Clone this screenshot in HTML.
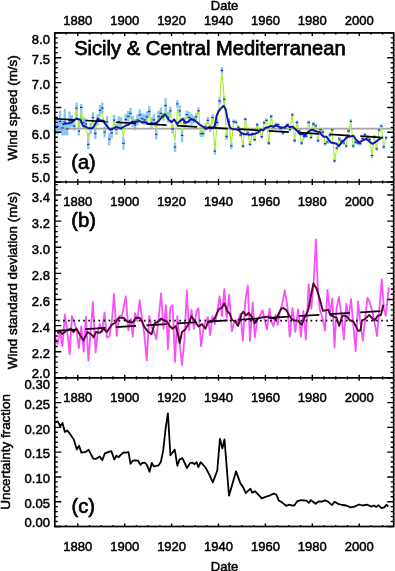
<!DOCTYPE html>
<html><head><meta charset="utf-8"><style>
html,body{margin:0;padding:0;background:#fff;width:395px;height:571px;overflow:hidden;}
svg{display:block;will-change:transform;}
text{font-family:"Liberation Sans", sans-serif;fill:#000;stroke:#000;stroke-width:0.5px;}
</style></head><body>
<svg width="395" height="571" viewBox="0 0 395 571" font-family='"Liberation Sans", sans-serif'>
<rect width="395" height="571" fill="#fff"/>
<path d="M55.42 119.0V134.0M57.77 118.2V134.4M60.11 110.6V132.4M62.45 120.3V135.4M64.80 109.1V135.4M67.15 122.3V135.4M69.49 111.6V129.4M71.84 115.0V127.0M74.18 122.0V130.4M76.53 102.6V118.0M78.87 118.0V135.5M81.22 103.9V124.0M83.56 117.2V128.2M85.91 118.6V129.6M88.25 133.0V149.4M90.59 122.9V133.9M92.94 112.2V123.2M95.28 128.0V139.0M97.63 114.2V125.2M99.98 104.9V115.9M102.32 102.7V113.7M104.67 126.6V137.6M107.01 116.3V127.3M109.36 132.9V145.5M111.70 127.3V138.3M114.05 114.7V125.7M116.39 123.8V134.8M118.74 116.3V127.3M121.08 117.2V128.2M123.43 136.8V149.8M125.77 114.0V125.0M128.12 110.9V121.9M130.46 107.9V118.9M132.81 116.3V127.3M135.15 119.3V130.3M137.50 114.2V125.2M139.84 109.3V120.3M142.19 113.2V124.2M144.53 114.2V125.2M146.88 111.3V122.3M149.22 106.0V117.0M151.56 117.2V128.2M153.91 114.2V125.2M156.25 129.4V139.4M158.60 110.7V122.3M160.94 107.6V119.2M163.29 113.1V120.5M165.63 98.2V112.8M167.98 111.8V122.8M170.33 106.7V115.1M172.67 124.5V133.5M175.02 142.2V152.2M177.36 100.2V107.6M179.71 105.6V116.0M182.05 128.6V142.2M184.40 117.2V128.2M186.74 110.4V118.8M189.09 111.8V122.8M191.43 113.7V124.7M193.78 116.1V122.9M196.12 113.5V120.3M198.47 107.4V114.2M200.81 130.2V137.0M203.16 130.2V137.0M205.50 123.6V130.4M207.85 117.0V123.8M210.19 125.1V131.9M212.54 114.2V121.0M214.88 147.8V154.6M217.23 119.1V125.9M219.57 97.6V104.4M221.92 67.1V73.9M224.26 96.0V102.8M226.61 133.1V139.9M228.95 117.9V124.7M231.30 142.4V149.2M233.64 119.6V123.6M235.99 120.3V124.3M238.33 125.5V129.5M240.68 133.0V137.0M243.02 144.0V148.0M245.37 117.3V121.3M247.71 130.9V134.9M250.06 142.3V146.3M252.40 132.2V136.2M254.75 137.6V141.6M257.09 122.8V126.8M259.44 128.4V132.4M261.78 134.7V138.7M264.12 120.8V124.8M266.47 118.3V122.3M268.81 141.0V145.0M271.16 114.5V118.5M273.50 125.2V129.2M275.85 122.7V126.7M278.19 122.7V126.7M280.54 126.5V130.5M282.89 130.9V134.9M285.23 125.8V129.8M287.58 122.7V126.7M289.92 127.7V131.7M292.27 112.9V116.9M294.61 138.5V142.5M296.96 120.5V124.5M299.30 129.0V133.0M301.65 141.0V145.0M303.99 134.7V138.7M306.34 134.1V138.1M308.68 120.5V124.5M311.03 135.3V139.3M313.37 122.0V126.0M315.72 123.9V127.9M318.06 138.5V142.5M320.41 127.7V131.7M322.75 130.0V134.0M325.10 141.7V145.7M327.44 139.8V143.8M329.79 133.0V137.0M332.13 127.9V131.9M334.48 158.8V162.8M336.82 146.2V150.2M339.17 136.9V140.9M341.51 139.0V143.0M343.86 141.1V145.1M346.20 143.9V147.9M348.55 129.0V133.0M350.89 119.3V123.3M353.24 143.9V147.9M355.58 140.1V144.1M357.93 141.0V145.0M360.27 141.5V145.5M362.62 136.6V140.6M364.96 132.7V136.7M367.31 135.0V139.0M369.65 137.5V141.5M372.00 153.7V157.7M374.34 134.8V138.8M376.69 146.8V150.8M379.03 127.9V131.9M381.38 124.2V128.2M383.72 144.9V148.9M386.07 135.9V139.9" stroke="#86c9f4" stroke-width="2.4" fill="none"/>
<line x1="54.8" y1="128.6" x2="393.7" y2="128.6" stroke="#a4a4a4" stroke-width="1.6"/>
<polyline points="74.2,124.0 76.5,110.0 78.9,128.0 81.2,112.0 83.6,124.0 85.9,125.0 88.2,139.5 90.6,128.0 92.9,120.0 95.3,128.0 97.6,122.0 100.0,114.0 102.3,114.0 104.7,124.0 107.0,123.4 109.4,131.0 111.7,131.0 114.0,122.3 116.4,128.6 118.7,123.4 121.1,124.0 123.4,137.0 125.8,121.8 128.1,119.7 130.5,117.6 132.8,123.4 135.2,125.5 137.5,122.0 139.8,118.6 142.2,121.3 144.5,122.0 146.9,120.0 149.2,115.3 151.6,124.0 153.9,122.0 156.3,129.2 158.6,116.5 160.9,114.0 163.3,120.0 165.6,110.2 168.0,120.3 170.3,114.0 172.7,127.0 175.0,141.0 177.4,108.9 179.7,115.9 182.1,131.1 184.4,124.0 186.7,115.9 189.1,120.3 191.4,121.6 193.8,119.5 196.1,116.9 198.5,110.8 200.8,133.6 203.2,133.6 205.5,127.0 207.8,120.4 210.2,128.5 212.5,117.6 214.9,151.2 217.2,122.5 219.6,101.0 221.9,70.5 224.3,99.4 226.6,136.5 228.9,121.3 231.3,145.8 233.6,121.6 236.0,122.3 238.3,127.5 240.7,135.0 243.0,146.0 245.4,119.3 247.7,132.9 250.1,144.3 252.4,134.2 254.7,139.6 257.1,124.8 259.4,130.4 261.8,136.7 264.1,122.8 266.5,120.3 268.8,143.0 271.2,116.5 273.5,127.2 275.9,124.7 278.2,124.7 280.5,128.5 282.9,132.9 285.2,127.8 287.6,124.7 289.9,129.7 292.3,114.9 294.6,140.5 297.0,122.5 299.3,131.0 301.6,143.0 304.0,136.7 306.3,136.1 308.7,122.5 311.0,137.3 313.4,124.0 315.7,125.9 318.1,140.5 320.4,129.7 322.8,132.0 325.1,143.7 327.4,141.8 329.8,135.0 332.1,129.9 334.5,160.8 336.8,148.2 339.2,138.9 341.5,141.0 343.9,143.1 346.2,145.9 348.5,131.0 350.9,121.3 353.2,145.9 355.6,142.1 357.9,143.0 360.3,143.5 362.6,138.6 365.0,134.7 367.3,137.0 369.7,139.5 372.0,155.7 374.3,136.8 376.7,148.8 379.0,129.9 381.4,126.2 383.7,146.9 386.1,137.9" fill="none" stroke="#a6ee2a" stroke-width="1.1" stroke-linejoin="round"/>
<path d="M54.22 126.5H56.62M56.56 126.3H58.97M58.91 121.5H61.31M61.25 127.8H63.66M63.60 122.2H66.00M65.95 128.8H68.35M68.29 120.5H70.69M70.64 121.0H73.04M72.98 126.2H75.38M75.33 108.1H77.73M77.67 131.2H80.07M80.02 107.3H82.42M82.36 122.7H84.76M84.70 124.1H87.11M87.05 144.4H89.45M89.39 128.4H91.80M91.74 117.7H94.14M94.08 133.5H96.48M96.43 119.8H98.83M98.78 110.4H101.18M101.12 108.2H103.52M103.47 132.1H105.87M105.81 121.8H108.21M108.16 139.2H110.56M110.50 132.8H112.90M112.85 120.2H115.25M115.19 129.3H117.59M117.54 121.8H119.94M119.88 122.7H122.28M122.23 143.3H124.63M124.57 119.5H126.97M126.92 116.4H129.31M129.26 113.4H131.66M131.61 121.8H134.00M133.95 124.8H136.35M136.30 119.8H138.69M138.64 114.8H141.04M140.99 118.7H143.38M143.33 119.8H145.73M145.68 116.8H148.07M148.02 111.5H150.42M150.37 122.7H152.76M152.71 119.8H155.11M155.06 134.4H157.45M157.40 116.5H159.80M159.75 113.4H162.14M162.09 116.8H164.49M164.44 105.5H166.83M166.78 117.3H169.18M169.13 110.9H171.53M171.47 129.0H173.87M173.82 147.2H176.22M176.16 103.9H178.56M178.51 110.8H180.91M180.85 135.4H183.25M183.20 122.7H185.60M185.54 114.6H187.94M187.89 117.3H190.29M190.23 119.2H192.63M192.58 119.5H194.98M194.92 116.9H197.32M197.27 110.8H199.67M199.61 133.6H202.01M201.96 133.6H204.36M204.30 127.0H206.70M206.65 120.4H209.05M208.99 128.5H211.39M211.34 117.6H213.74M213.68 151.2H216.08M216.03 122.5H218.43M218.37 101.0H220.77M220.72 70.5H223.12M223.06 99.4H225.46M225.41 136.5H227.81M227.75 121.3H230.15M230.10 145.8H232.50M232.44 121.6H234.84M234.79 122.3H237.19M237.13 127.5H239.53M239.48 135.0H241.88M241.82 146.0H244.22M244.17 119.3H246.56M246.51 132.9H248.91M248.86 144.3H251.25M251.20 134.2H253.60M253.55 139.6H255.94M255.89 124.8H258.29M258.24 130.4H260.63M260.58 136.7H262.98M262.93 122.8H265.32M265.27 120.3H267.67M267.62 143.0H270.01M269.96 116.5H272.36M272.31 127.2H274.70M274.65 124.7H277.05M277.00 124.7H279.39M279.34 128.5H281.74M281.69 132.9H284.09M284.03 127.8H286.43M286.38 124.7H288.78M288.72 129.7H291.12M291.07 114.9H293.47M293.41 140.5H295.81M295.76 122.5H298.16M298.10 131.0H300.50M300.45 143.0H302.85M302.79 136.7H305.19M305.14 136.1H307.54M307.48 122.5H309.88M309.83 137.3H312.23M312.17 124.0H314.57M314.52 125.9H316.92M316.86 140.5H319.26M319.21 129.7H321.61M321.55 132.0H323.95M323.90 143.7H326.30M326.24 141.8H328.64M328.59 135.0H330.99M330.93 129.9H333.33M333.28 160.8H335.68M335.62 148.2H338.02M337.97 138.9H340.37M340.31 141.0H342.71M342.66 143.1H345.06M345.00 145.9H347.40M347.35 131.0H349.75M349.69 121.3H352.09M352.04 145.9H354.44M354.38 142.1H356.78M356.73 143.0H359.13M359.07 143.5H361.47M361.42 138.6H363.82M363.76 134.7H366.16M366.11 137.0H368.51M368.45 139.5H370.85M370.80 155.7H373.20M373.14 136.8H375.54M375.49 148.8H377.89M377.83 129.9H380.23M380.18 126.2H382.58M382.52 146.9H384.92M384.87 137.9H387.27" stroke="#2030c0" stroke-width="1.3" fill="none"/>
<polyline points="62.4,124.4 65.4,123.6 69.2,123.2 72.2,122.1 75.3,119.4 76.8,118.7 79.1,119.4 80.6,119.8 82.7,125.5 85.8,126.8 88.7,128.3 92.5,128.3 95.4,123.9 97.8,118.6 100.3,120.6 103.1,120.6 106.0,124.9 108.5,128.2 110.7,129.7 113.5,128.3 116.0,127.0 118.5,127.6 120.7,128.6 123.3,127.0 126.0,125.5 128.6,124.9 130.7,122.8 133.3,121.8 136.5,121.8 139.6,121.0 142.2,122.5 144.5,122.0 147.8,123.5 151.6,124.1 156.7,122.8 159.8,119.7 162.5,116.2 165.1,114.3 168.5,119.4 171.4,122.3 174.2,119.4 177.0,124.0 179.9,121.1 182.7,118.9 185.6,122.8 188.4,121.7 190.8,119.0 194.0,120.2 196.5,121.8 199.5,124.5 203.1,126.8 206.1,128.8 209.2,127.4 212.3,128.0 214.7,126.2 216.6,115.8 218.4,111.5 220.9,108.4 223.6,105.7 225.8,109.6 227.6,119.4 230.1,128.0 233.1,129.3 236.2,129.3 239.3,130.5 240.5,132.3 243.7,134.2 246.9,134.2 250.0,134.8 252.6,134.2 255.7,133.5 258.3,132.3 260.8,129.7 263.3,130.4 265.2,127.8 268.4,127.2 270.9,125.9 273.4,126.6 276.0,125.3 278.5,126.6 281.7,127.8 284.8,127.2 287.2,125.3 289.7,127.2 292.2,126.6 294.8,128.5 297.3,131.0 299.8,134.2 302.4,134.2 304.9,135.4 307.4,132.9 309.9,130.4 312.5,129.7 315.0,131.0 317.5,131.6 320.1,132.3 322.0,135.4 323.9,136.7 326.4,136.7 328.3,139.2 330.8,142.4 333.2,142.9 336.5,143.8 338.9,146.2 341.3,142.9 344.6,139.7 347.0,137.0 350.3,136.5 353.5,135.7 355.9,139.7 359.2,142.5 362.4,140.5 366.5,138.9 369.7,141.8 372.9,143.8 375.5,142.0 378.6,139.7 381.9,137.6 383.2,137.6" fill="none" stroke="#1414b4" stroke-width="2.0" stroke-linejoin="round"/>
<line x1="54.8" y1="118.75" x2="381.0" y2="137.31" stroke="#000" stroke-width="1.7" stroke-dasharray="20.2 10.4"/>
<polyline points="55.5,338.0 57.5,343.9 60.3,332.0 62.4,346.7 64.9,314.5 67.3,332.0 69.7,354.4 71.9,315.9 74.7,323.6 76.5,330.0 78.9,348.1 81.3,326.4 83.7,351.6 85.9,316.6 88.4,360.5 92.9,302.0 95.6,352.4 97.8,332.0 99.8,324.0 102.2,332.0 104.5,312.3 106.9,337.5 109.5,336.0 112.2,317.8 114.0,293.9 116.7,335.9 119.2,316.2 121.9,315.4 125.8,296.5 128.4,330.4 131.0,319.0 132.7,336.7 135.0,313.1 137.4,321.0 139.7,300.2 142.1,319.0 144.2,333.5 146.8,360.3 149.2,316.2 151.6,327.0 154.0,332.0 156.3,339.1 158.6,319.0 161.1,293.4 163.5,328.8 166.0,305.2 167.9,349.3 170.2,308.0 172.6,305.2 175.0,361.9 177.3,316.2 179.7,343.0 182.0,365.0 184.4,340.0 186.8,290.7 189.1,330.0 191.5,309.9 193.9,328.8 196.5,311.5 198.4,308.3 201.0,346.1 203.9,325.7 207.8,317.0 210.2,335.1 212.5,316.2 214.9,324.0 217.3,311.5 219.6,296.5 222.0,316.2 224.3,289.1 226.7,317.8 229.1,295.0 231.9,331.2 234.5,321.0 237.3,322.5 240.4,313.8 242.9,340.9 245.2,301.5 247.8,285.4 250.0,340.9 252.7,302.4 254.8,337.4 257.4,319.0 260.0,315.5 262.6,310.3 264.9,321.0 267.0,329.5 269.5,308.7 271.5,322.0 273.6,326.2 275.7,315.0 277.8,324.8 279.9,311.0 282.0,305.2 284.8,290.5 287.6,308.0 289.7,336.7 292.5,308.0 295.3,331.8 298.1,309.4 300.9,336.7 303.4,310.8 305.9,339.8 308.6,284.3 311.3,309.0 313.7,282.0 315.9,239.3 317.6,284.0 319.8,309.8 322.5,318.0 325.0,330.8 327.5,289.9 330.0,314.0 332.4,298.3 334.5,347.6 336.6,308.0 338.9,297.0 341.6,317.0 343.9,339.4 346.3,303.9 348.6,318.0 351.0,299.2 353.0,322.0 355.7,351.2 358.1,301.5 360.4,323.0 362.8,341.0 365.2,318.0 367.5,297.6 369.9,303.0 372.6,312.0 375.0,325.0 377.0,336.2 379.3,310.0 381.7,279.1 384.0,310.0 385.9,315.7 388.8,287.3" fill="none" stroke="#fa50fa" stroke-width="1.8" stroke-linejoin="round"/>
<polyline points="57.5,333.5 60.0,331.0 62.4,334.1 66.0,331.0 70.5,328.5 73.6,332.0 76.4,328.5 79.9,334.8 83.4,340.4 87.6,332.0 91.8,334.8 93.7,337.5 95.9,332.0 99.8,332.8 103.7,328.8 106.9,332.0 111.6,324.9 115.6,322.5 118.7,317.8 123.4,317.8 127.2,321.5 132.7,322.5 135.8,317.8 139.7,317.8 142.1,321.7 144.5,327.2 147.6,331.2 151.6,334.3 154.7,323.3 157.9,321.7 161.0,318.6 163.4,320.2 167.1,321.7 169.4,325.7 172.6,328.8 175.7,326.0 177.3,332.0 179.7,343.0 182.0,332.0 185.2,329.6 188.3,324.1 191.5,316.2 194.6,320.9 198.5,326.5 202.0,324.0 205.4,328.8 207.8,322.5 211.7,321.7 214.9,317.8 218.8,309.1 222.0,307.6 224.3,303.3 227.5,311.5 229.9,313.9 232.1,320.0 235.4,321.7 238.1,326.0 241.6,313.8 243.4,311.7 246.0,315.5 248.6,312.9 252.1,317.3 254.8,323.4 258.3,318.2 262.6,317.3 267.5,316.7 275.7,319.2 281.3,308.7 283.4,308.0 286.2,310.1 289.0,315.0 291.8,319.2 294.6,320.6 298.1,320.6 301.6,324.8 304.2,318.5 308.2,309.8 313.4,283.4 316.6,288.8 319.8,299.3 322.9,310.9 328.2,309.8 330.3,315.1 336.6,317.8 339.2,325.8 342.3,315.7 345.5,315.7 350.2,320.5 353.4,321.3 358.1,330.7 360.4,330.7 362.0,320.5 365.2,318.9 369.1,315.0 374.6,320.5 377.8,315.7 381.0,315.0 383.3,304.7" fill="none" stroke="#4e0830" stroke-width="1.9" stroke-linejoin="round"/>
<line x1="54.8" y1="330.90" x2="381.0" y2="311.03" stroke="#000" stroke-width="1.7" stroke-dasharray="20.2 10.4"/>
<line x1="58" y1="320.6" x2="390" y2="320.6" stroke="#000" stroke-width="1.7" stroke-dasharray="1.7 3.35"/>
<polyline points="55.0,422.5 57.7,421.4 60.2,426.2 62.5,422.9 64.9,432.0 67.4,430.4 70.4,434.6 73.8,439.4 76.8,449.5 79.1,445.7 81.4,452.6 85.9,451.8 88.7,449.8 93.2,458.6 95.8,458.9 99.6,456.4 102.3,460.2 104.9,453.3 108.7,451.8 111.4,451.2 114.3,459.5 116.4,455.7 118.8,457.2 120.9,454.7 123.7,452.4 126.0,452.7 128.5,452.2 130.5,463.8 132.8,460.7 135.8,460.3 138.1,460.7 140.4,464.8 142.7,462.6 145.3,462.9 147.2,465.6 149.5,471.7 151.8,462.9 153.8,466.4 156.4,465.9 158.6,465.3 160.9,461.8 163.2,450.4 165.9,426.1 167.9,413.4 170.4,455.3 174.8,449.6 177.3,465.7 179.5,459.6 182.4,458.1 187.0,468.0 190.1,463.1 192.4,462.7 194.6,464.2 196.6,462.2 198.4,467.2 200.7,462.2 205.5,467.5 209.1,474.1 212.8,482.4 217.3,470.5 219.9,438.8 222.4,448.4 224.5,439.5 229.0,495.7 236.0,471.4 240.5,483.6 242.8,486.6 245.8,493.1 250.4,488.6 252.2,492.7 255.0,491.2 261.8,498.3 265.6,496.8 270.1,495.3 273.6,493.6 276.2,494.5 278.9,500.6 282.2,502.6 286.2,505.8 289.4,504.7 291.9,505.5 294.3,505.5 297.2,501.3 300.8,500.1 306.5,500.6 308.9,502.9 310.8,500.1 313.0,501.7 315.7,503.8 318.6,501.4 321.9,501.7 325.1,500.4 328.0,501.7 330.8,504.2 332.2,505.0 334.5,501.7 338.1,503.8 342.2,505.0 346.2,505.5 350.7,507.4 354.3,506.6 359.2,504.5 362.4,505.5 367.3,504.7 371.3,506.6 373.8,505.5 376.2,506.9 378.6,505.3 381.5,508.2 384.3,507.4 386.4,504.7 388.3,506.6" fill="none" stroke="#000" stroke-width="1.8" stroke-linejoin="round"/>
<rect x="54.8" y="32.9" width="338.9" height="493.6" fill="none" stroke="#000" stroke-width="1.7"/>
<line x1="54.8" y1="182.0" x2="393.7" y2="182.0" stroke="#000" stroke-width="1.7"/>
<line x1="54.8" y1="377.8" x2="393.7" y2="377.8" stroke="#000" stroke-width="1.7"/>
<path d="M66.07 32.90V34.50M66.07 180.40V183.60M66.07 376.20V379.40M66.07 526.50V524.90M77.80 32.90V35.90M77.80 179.00V185.00M77.80 374.80V380.80M77.80 526.50V523.50M89.53 32.90V34.50M89.53 180.40V183.60M89.53 376.20V379.40M89.53 526.50V524.90M101.25 32.90V34.50M101.25 180.40V183.60M101.25 376.20V379.40M101.25 526.50V524.90M112.97 32.90V34.50M112.97 180.40V183.60M112.97 376.20V379.40M112.97 526.50V524.90M124.70 32.90V35.90M124.70 179.00V185.00M124.70 374.80V380.80M124.70 526.50V523.50M136.43 32.90V34.50M136.43 180.40V183.60M136.43 376.20V379.40M136.43 526.50V524.90M148.15 32.90V34.50M148.15 180.40V183.60M148.15 376.20V379.40M148.15 526.50V524.90M159.88 32.90V34.50M159.88 180.40V183.60M159.88 376.20V379.40M159.88 526.50V524.90M171.60 32.90V35.90M171.60 179.00V185.00M171.60 374.80V380.80M171.60 526.50V523.50M183.32 32.90V34.50M183.32 180.40V183.60M183.32 376.20V379.40M183.32 526.50V524.90M195.05 32.90V34.50M195.05 180.40V183.60M195.05 376.20V379.40M195.05 526.50V524.90M206.78 32.90V34.50M206.78 180.40V183.60M206.78 376.20V379.40M206.78 526.50V524.90M218.50 32.90V35.90M218.50 179.00V185.00M218.50 374.80V380.80M218.50 526.50V523.50M230.23 32.90V34.50M230.23 180.40V183.60M230.23 376.20V379.40M230.23 526.50V524.90M241.95 32.90V34.50M241.95 180.40V183.60M241.95 376.20V379.40M241.95 526.50V524.90M253.68 32.90V34.50M253.68 180.40V183.60M253.68 376.20V379.40M253.68 526.50V524.90M265.40 32.90V35.90M265.40 179.00V185.00M265.40 374.80V380.80M265.40 526.50V523.50M277.12 32.90V34.50M277.12 180.40V183.60M277.12 376.20V379.40M277.12 526.50V524.90M288.85 32.90V34.50M288.85 180.40V183.60M288.85 376.20V379.40M288.85 526.50V524.90M300.57 32.90V34.50M300.57 180.40V183.60M300.57 376.20V379.40M300.57 526.50V524.90M312.30 32.90V35.90M312.30 179.00V185.00M312.30 374.80V380.80M312.30 526.50V523.50M324.03 32.90V34.50M324.03 180.40V183.60M324.03 376.20V379.40M324.03 526.50V524.90M335.75 32.90V34.50M335.75 180.40V183.60M335.75 376.20V379.40M335.75 526.50V524.90M347.48 32.90V34.50M347.48 180.40V183.60M347.48 376.20V379.40M347.48 526.50V524.90M359.20 32.90V35.90M359.20 179.00V185.00M359.20 374.80V380.80M359.20 526.50V523.50M370.93 32.90V34.50M370.93 180.40V183.60M370.93 376.20V379.40M370.93 526.50V524.90M382.65 32.90V34.50M382.65 180.40V183.60M382.65 376.20V379.40M382.65 526.50V524.90M54.80 182.00H61.30M393.70 182.00H387.20M54.80 177.03H57.80M393.70 177.03H390.70M54.80 172.06H57.80M393.70 172.06H390.70M54.80 167.09H57.80M393.70 167.09H390.70M54.80 162.12H57.80M393.70 162.12H390.70M54.80 157.15H61.30M393.70 157.15H387.20M54.80 152.18H57.80M393.70 152.18H390.70M54.80 147.21H57.80M393.70 147.21H390.70M54.80 142.24H57.80M393.70 142.24H390.70M54.80 137.27H57.80M393.70 137.27H390.70M54.80 132.30H61.30M393.70 132.30H387.20M54.80 127.33H57.80M393.70 127.33H390.70M54.80 122.36H57.80M393.70 122.36H390.70M54.80 117.39H57.80M393.70 117.39H390.70M54.80 112.42H57.80M393.70 112.42H390.70M54.80 107.45H61.30M393.70 107.45H387.20M54.80 102.48H57.80M393.70 102.48H390.70M54.80 97.51H57.80M393.70 97.51H390.70M54.80 92.54H57.80M393.70 92.54H390.70M54.80 87.57H57.80M393.70 87.57H390.70M54.80 82.60H61.30M393.70 82.60H387.20M54.80 77.63H57.80M393.70 77.63H390.70M54.80 72.66H57.80M393.70 72.66H390.70M54.80 67.69H57.80M393.70 67.69H390.70M54.80 62.72H57.80M393.70 62.72H390.70M54.80 57.75H61.30M393.70 57.75H387.20M54.80 52.78H57.80M393.70 52.78H390.70M54.80 47.81H57.80M393.70 47.81H390.70M54.80 42.84H57.80M393.70 42.84H390.70M54.80 37.87H57.80M393.70 37.87H390.70M54.80 32.90H61.30M393.70 32.90H387.20M54.80 377.80H61.30M393.70 377.80H387.20M54.80 372.58H57.80M393.70 372.58H390.70M54.80 367.36H57.80M393.70 367.36H390.70M54.80 362.14H57.80M393.70 362.14H390.70M54.80 356.91H57.80M393.70 356.91H390.70M54.80 351.69H61.30M393.70 351.69H387.20M54.80 346.47H57.80M393.70 346.47H390.70M54.80 341.25H57.80M393.70 341.25H390.70M54.80 336.03H57.80M393.70 336.03H390.70M54.80 330.81H57.80M393.70 330.81H390.70M54.80 325.59H61.30M393.70 325.59H387.20M54.80 320.37H57.80M393.70 320.37H390.70M54.80 315.14H57.80M393.70 315.14H390.70M54.80 309.92H57.80M393.70 309.92H390.70M54.80 304.70H57.80M393.70 304.70H390.70M54.80 299.48H61.30M393.70 299.48H387.20M54.80 294.26H57.80M393.70 294.26H390.70M54.80 289.04H57.80M393.70 289.04H390.70M54.80 283.82H57.80M393.70 283.82H390.70M54.80 278.59H57.80M393.70 278.59H390.70M54.80 273.37H61.30M393.70 273.37H387.20M54.80 268.15H57.80M393.70 268.15H390.70M54.80 262.93H57.80M393.70 262.93H390.70M54.80 257.71H57.80M393.70 257.71H390.70M54.80 252.49H57.80M393.70 252.49H390.70M54.80 247.27H61.30M393.70 247.27H387.20M54.80 242.05H57.80M393.70 242.05H390.70M54.80 236.82H57.80M393.70 236.82H390.70M54.80 231.60H57.80M393.70 231.60H390.70M54.80 226.38H57.80M393.70 226.38H390.70M54.80 221.16H61.30M393.70 221.16H387.20M54.80 215.94H57.80M393.70 215.94H390.70M54.80 210.72H57.80M393.70 210.72H390.70M54.80 205.50H57.80M393.70 205.50H390.70M54.80 200.27H57.80M393.70 200.27H390.70M54.80 195.05H61.30M393.70 195.05H387.20M54.80 189.83H57.80M393.70 189.83H390.70M54.80 184.61H57.80M393.70 184.61H390.70M54.80 526.50H61.30M393.70 526.50H387.20M54.80 521.54H57.80M393.70 521.54H390.70M54.80 516.59H57.80M393.70 516.59H390.70M54.80 511.63H57.80M393.70 511.63H390.70M54.80 506.67H57.80M393.70 506.67H390.70M54.80 501.72H61.30M393.70 501.72H387.20M54.80 496.76H57.80M393.70 496.76H390.70M54.80 491.80H57.80M393.70 491.80H390.70M54.80 486.85H57.80M393.70 486.85H390.70M54.80 481.89H57.80M393.70 481.89H390.70M54.80 476.93H61.30M393.70 476.93H387.20M54.80 471.98H57.80M393.70 471.98H390.70M54.80 467.02H57.80M393.70 467.02H390.70M54.80 462.06H57.80M393.70 462.06H390.70M54.80 457.11H57.80M393.70 457.11H390.70M54.80 452.15H61.30M393.70 452.15H387.20M54.80 447.19H57.80M393.70 447.19H390.70M54.80 442.24H57.80M393.70 442.24H390.70M54.80 437.28H57.80M393.70 437.28H390.70M54.80 432.32H57.80M393.70 432.32H390.70M54.80 427.37H61.30M393.70 427.37H387.20M54.80 422.41H57.80M393.70 422.41H390.70M54.80 417.45H57.80M393.70 417.45H390.70M54.80 412.50H57.80M393.70 412.50H390.70M54.80 407.54H57.80M393.70 407.54H390.70M54.80 402.58H61.30M393.70 402.58H387.20M54.80 397.63H57.80M393.70 397.63H390.70M54.80 392.67H57.80M393.70 392.67H390.70M54.80 387.71H57.80M393.70 387.71H390.70M54.80 382.76H57.80M393.70 382.76H390.70M54.80 377.80H61.30M393.70 377.80H387.20" stroke="#000" stroke-width="1.4" fill="none"/>
<text x="224.60" y="9.90" font-size="13.0" text-anchor="middle" >Date</text>
<text x="224.60" y="570.90" font-size="13.0" text-anchor="middle" >Date</text>
<text x="77.80" y="24.90" font-size="13.0" text-anchor="middle" >1880</text>
<text x="77.80" y="205.60" font-size="13.0" text-anchor="middle" >1880</text>
<text x="77.80" y="401.80" font-size="13.0" text-anchor="middle" >1880</text>
<text x="77.80" y="550.60" font-size="13.0" text-anchor="middle" >1880</text>
<text x="124.70" y="24.90" font-size="13.0" text-anchor="middle" >1900</text>
<text x="124.70" y="205.60" font-size="13.0" text-anchor="middle" >1900</text>
<text x="124.70" y="401.80" font-size="13.0" text-anchor="middle" >1900</text>
<text x="124.70" y="550.60" font-size="13.0" text-anchor="middle" >1900</text>
<text x="171.60" y="24.90" font-size="13.0" text-anchor="middle" >1920</text>
<text x="171.60" y="205.60" font-size="13.0" text-anchor="middle" >1920</text>
<text x="171.60" y="401.80" font-size="13.0" text-anchor="middle" >1920</text>
<text x="171.60" y="550.60" font-size="13.0" text-anchor="middle" >1920</text>
<text x="218.50" y="24.90" font-size="13.0" text-anchor="middle" >1940</text>
<text x="218.50" y="205.60" font-size="13.0" text-anchor="middle" >1940</text>
<text x="218.50" y="401.80" font-size="13.0" text-anchor="middle" >1940</text>
<text x="218.50" y="550.60" font-size="13.0" text-anchor="middle" >1940</text>
<text x="265.40" y="24.90" font-size="13.0" text-anchor="middle" >1960</text>
<text x="265.40" y="205.60" font-size="13.0" text-anchor="middle" >1960</text>
<text x="265.40" y="401.80" font-size="13.0" text-anchor="middle" >1960</text>
<text x="265.40" y="550.60" font-size="13.0" text-anchor="middle" >1960</text>
<text x="312.30" y="24.90" font-size="13.0" text-anchor="middle" >1980</text>
<text x="312.30" y="205.60" font-size="13.0" text-anchor="middle" >1980</text>
<text x="312.30" y="401.80" font-size="13.0" text-anchor="middle" >1980</text>
<text x="312.30" y="550.60" font-size="13.0" text-anchor="middle" >1980</text>
<text x="359.20" y="24.90" font-size="13.0" text-anchor="middle" >2000</text>
<text x="359.20" y="205.60" font-size="13.0" text-anchor="middle" >2000</text>
<text x="359.20" y="401.80" font-size="13.0" text-anchor="middle" >2000</text>
<text x="359.20" y="550.60" font-size="13.0" text-anchor="middle" >2000</text>
<text x="49.90" y="44.40" font-size="13.0" text-anchor="end" >8.0</text>
<text x="49.90" y="64.05" font-size="13.0" text-anchor="end" >7.5</text>
<text x="49.90" y="88.90" font-size="13.0" text-anchor="end" >7.0</text>
<text x="49.90" y="113.75" font-size="13.0" text-anchor="end" >6.5</text>
<text x="49.90" y="138.60" font-size="13.0" text-anchor="end" >6.0</text>
<text x="49.90" y="163.45" font-size="13.0" text-anchor="end" >5.5</text>
<text x="49.90" y="182.40" font-size="13.0" text-anchor="end" >5.0</text>
<text x="49.90" y="201.55" font-size="13.0" text-anchor="end" >3.4</text>
<text x="49.90" y="227.66" font-size="13.0" text-anchor="end" >3.2</text>
<text x="49.90" y="253.77" font-size="13.0" text-anchor="end" >3.0</text>
<text x="49.90" y="279.87" font-size="13.0" text-anchor="end" >2.8</text>
<text x="49.90" y="305.98" font-size="13.0" text-anchor="end" >2.6</text>
<text x="49.90" y="332.09" font-size="13.0" text-anchor="end" >2.4</text>
<text x="49.90" y="358.19" font-size="13.0" text-anchor="end" >2.2</text>
<text x="49.90" y="377.60" font-size="13.0" text-anchor="end" >2.0</text>
<text x="49.90" y="389.00" font-size="13.0" text-anchor="end" >0.30</text>
<text x="49.90" y="408.88" font-size="13.0" text-anchor="end" >0.25</text>
<text x="49.90" y="433.67" font-size="13.0" text-anchor="end" >0.20</text>
<text x="49.90" y="458.45" font-size="13.0" text-anchor="end" >0.15</text>
<text x="49.90" y="483.23" font-size="13.0" text-anchor="end" >0.10</text>
<text x="49.90" y="508.02" font-size="13.0" text-anchor="end" >0.05</text>
<text x="49.90" y="527.00" font-size="13.0" text-anchor="end" >0.00</text>
<text transform="translate(16.9,107.9) rotate(-90)" font-size="13.45" text-anchor="middle">Wind speed (m/s)</text>
<text transform="translate(17.1,280.5) rotate(-90)" font-size="13.35" text-anchor="middle">Wind standard deviation (m/s)</text>
<text transform="translate(9.8,451.9) rotate(-90)" font-size="13.45" text-anchor="middle">Uncertainty fraction</text>
<text x="74.20" y="55.40" font-size="20.1" text-anchor="start" style="stroke-width:0.75px">Sicily &amp; Central Mediterranean</text>
<text x="71.30" y="168.60" font-size="20" text-anchor="start" style="stroke-width:0.7px">(a)</text>
<text x="71.30" y="227.00" font-size="20.3" text-anchor="start" style="stroke-width:0.7px">(b)</text>
<text x="71.50" y="512.60" font-size="20" text-anchor="start" style="stroke-width:0.7px">(c)</text>
</svg>
</body></html>
